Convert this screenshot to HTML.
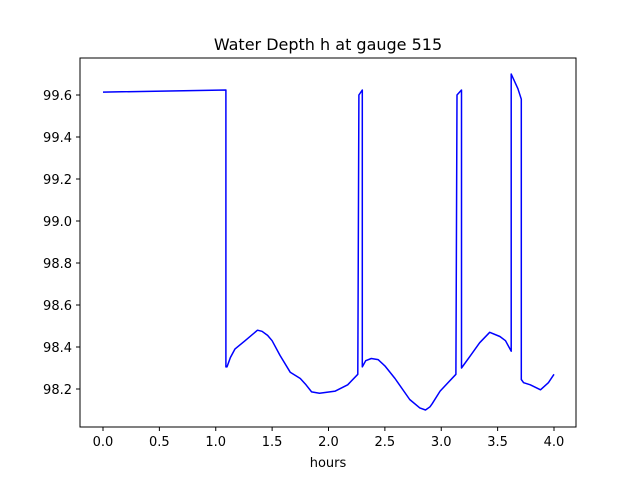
<!DOCTYPE html>
<html><head><meta charset="utf-8"><style>
body{margin:0;background:#fff}
svg text{font-family:"DejaVu Sans","Liberation Sans",sans-serif;}
</style></head><body>
<svg width="640" height="480" xmlns="http://www.w3.org/2000/svg">
<rect width="640" height="480" fill="#fff"/>
<text x="328" y="50" font-size="16" text-anchor="middle">Water Depth h at gauge 515</text>
<g id="ticks"></g>
<path id="line" fill="none" stroke="#0000ff" stroke-width="1.5" stroke-linejoin="round"/>
<rect x="80" y="58" width="496" height="369" fill="none" stroke="#000" stroke-width="1"/>
<text x="328" y="467" font-size="13" text-anchor="middle">hours</text>
</svg>
<script>
const hours=[0,1.09,1.09,1.1,1.13,1.17,1.26,1.37,1.41,1.46,1.5,1.57,1.66,1.72,1.75,1.8,1.85,1.92,2.06,2.17,2.26,2.27,2.3,2.3,2.33,2.38,2.44,2.5,2.59,2.72,2.81,2.86,2.9,2.92,2.99,3.13,3.14,3.18,3.18,3.26,3.34,3.43,3.52,3.57,3.62,3.62,3.68,3.71,3.71,3.73,3.79,3.88,3.95,4.0];
const depth=[99.614,99.624,98.305,98.305,98.35,98.39,98.43,98.48,98.475,98.455,98.43,98.36,98.28,98.26,98.25,98.22,98.186,98.18,98.19,98.22,98.27,99.6,99.624,98.305,98.335,98.345,98.34,98.31,98.25,98.15,98.11,98.1,98.115,98.13,98.19,98.27,99.6,99.624,98.3,98.36,98.42,98.47,98.45,98.43,98.38,99.7,99.63,99.58,98.245,98.23,98.22,98.196,98.23,98.27];
const xTicks=[0,0.5,1,1.5,2,2.5,3,3.5,4];
const yTicks=[98.2,98.4,98.6,98.8,99.0,99.2,99.4,99.6];
const X=h=>103+h*112.75;
const Y=v=>95+(99.6-v)*210;
const NS="http://www.w3.org/2000/svg";
const g=document.getElementById('ticks');
function mk(tag,attrs){const e=document.createElementNS(NS,tag);for(const k in attrs)e.setAttribute(k,attrs[k]);return e;}
xTicks.forEach(t=>{
  const l=mk('line',{x1:X(t),x2:X(t),y1:427,y2:431,stroke:'#000'});
  
  
  g.appendChild(l);
  const tx=mk('text',{x:X(t),y:446,'font-size':13,'text-anchor':'middle'});
  
  
  tx.textContent=t.toFixed(1);g.appendChild(tx);
});
yTicks.forEach(t=>{
  const l=mk('line',{x1:76,x2:80,y1:Y(t),y2:Y(t),stroke:'#000'});
  
  
  g.appendChild(l);
  const tx=mk('text',{x:72,y:Y(t)+5,'font-size':13,'text-anchor':'end'});
  
  
  tx.textContent=t.toFixed(1);g.appendChild(tx);
});
document.getElementById('line').setAttribute('d',hours.map((h,i)=>(i?'L':'M')+X(h).toFixed(1)+' '+Y(depth[i]).toFixed(1)).join(' '));
</script>
</body></html>
